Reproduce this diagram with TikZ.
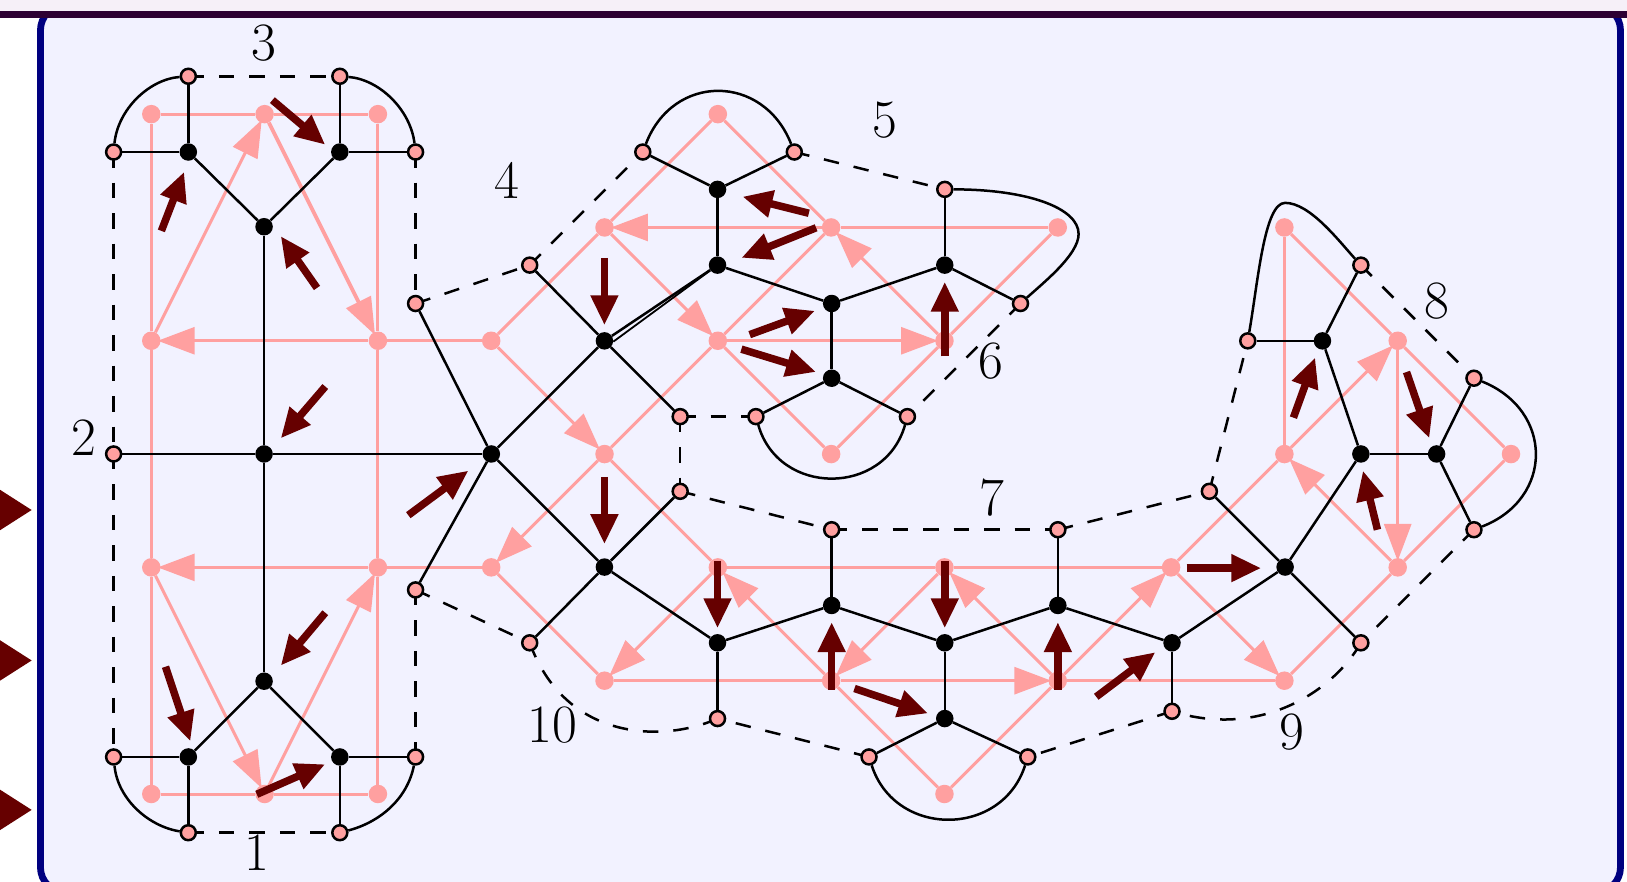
\documentclass[tikz,border=0pt]{standalone}
\usetikzlibrary{arrows.meta}
\definecolor{pk}{HTML}{FFA0A0}
\definecolor{dk}{HTML}{660000}
\definecolor{bgfill}{HTML}{F2F2FF}
\definecolor{framec}{HTML}{000080}
\definecolor{barc}{HTML}{2D0033}
\definecolor{barl}{HTML}{F6F0F8}
\tikzset{
  pinknode/.style={circle,fill=pk,inner sep=0pt,minimum size=18.5pt},
  blacknode/.style={circle,fill=black,inner sep=0pt,minimum size=17.5pt},
  bnode/.style={circle,fill=pk,draw=black,line width=2.5pt,inner sep=0pt,minimum size=15pt},
  edgeblack/.style={draw=black,line width=2.5pt},
  edgedash/.style={draw=black,line width=2.5pt,dash pattern=on 15.5pt off 15pt},
  pinkline/.style={draw=pk,line width=3pt},
  pinkarrow/.style={draw=pk,line width=3pt,shorten >=-3pt,-{Triangle[length=37pt,width=27pt,color=pk]}},
  darkarrow/.style={draw=dk,line width=7.5pt,-{Triangle[length=30pt,width=26pt,color=dk]}},
  lab/.style={inner sep=0pt,font=\fontsize{54}{60}\selectfont},
  tri/.style={fill=dk,draw=none},
}
\newcommand{\boundarylist}{c1/109/146,c2/181/73,c3/327/73,c4/400/146,c5/400/292,c6/109/437,c7/400/568,c8/109/729,c9/181/802,c10/327/802,c11/400/729,c12/510/255,c13/619/146,c14/765/146,c15/910/182,c16/983/292,c17/655/401,c18/728/401,c19/874/401,c20/655/473,c21/510/619,c22/691/692,c23/801/510,c24/1019/510,c25/837/729,c26/990/729,c27/1129/685,c28/1165/473,c29/1311/619,c30/1202/328,c31/1311/255,c32/1420/364,c33/1420/510}
\begin{document}
\begin{tikzpicture}[x=1.03763pt,y=-1.03763pt]
\useasboundingbox (0,0) rectangle (1568,850);
\clip (0,0) rectangle (1568,850);
\fill[white] (0,0) rectangle (1568,850);
% frame
\draw[draw=framec,fill=bgfill,line width=6.8pt,rounded corners=25pt] (39,5) rectangle (1561.7,860);
\fill[barl] (0,0) rectangle (1568,10.6);
\fill[barc] (0,10.6) rectangle (1568,17.3);
% side triangles
\fill[tri] (0,472) -- (30.5,491.5) -- (0,511) -- cycle;
\fill[tri] (0,617) -- (30.5,636.5) -- (0,656) -- cycle;
\fill[tri] (0,761) -- (30.5,780.5) -- (0,800) -- cycle;
\begin{scope}[shift={(0.5,0.5)}]
% pink nodes
\foreach \c/\r in {0/0,1/0,2/0,0/2,2/2,3/2,0/4,2/4,3/4,0/6,1/6,2/6,5/0,4/1,6/1,8/1,5/2,7/2,4/3,6/3,5/4,7/4,9/4,4/5,6/5,8/5,10/5,7/6,10/1,11/2,10/3,12/3,11/4}
  \node[pinknode] (p\c-\r) at ({145.3+109.2*\c},{109.5+109.2*\r}) {};
% pink plain edges
\foreach \a/\b in {0-0/1-0,1-0/2-0,0-0/0-2,0-2/0-4,0-4/0-6,2-0/2-2,2-2/2-4,2-4/2-6,0-6/1-6,1-6/2-6,3-2/2-2,3-4/2-4,
  3-2/4-1,4-1/5-0,5-0/6-1,6-1/5-2,5-2/4-3,8-1/6-1,8-1/7-2,7-2/6-3,5-2/6-3,4-3/5-4,3-4/4-5,4-5/6-5,8-5/10-5,5-4/7-4,7-4/9-4,6-5/7-6,7-6/8-5,10-5/11-4,9-4/10-3,10-3/10-1,10-1/11-2,11-2/12-3,12-3/11-4}
  \draw[pinkline] (p\a) -- (p\b);
% pink arrows
\foreach \a/\b in {0-2/1-0,2-2/0-2,2-4/0-4,0-4/1-6,1-6/2-4,7-2/6-1,4-3/3-4,6-1/4-1,4-1/5-2,5-2/7-2,3-2/4-3,5-4/4-5,6-5/8-5,6-5/5-4,7-4/6-5,8-5/7-4,8-5/9-4,9-4/10-5,10-3/11-2,11-2/11-4,11-4/10-3}
  \draw[pinkarrow] (p\a) -- (p\b);
\draw[pinkarrow,line width=3.8pt] (p1-0) -- (p2-2);
% positions of the boundary vertices: the dashed edges start at their centres, under the discs
\foreach \n/\x/\y in \boundarylist
  \coordinate (\n) at (\x,\y);
% dashed edges
\foreach \a/\b in {c2/c3,c1/c6,c6/c8,c4/c5,c7/c11,c9/c10,c5/c12,c12/c13,c14/c15,c16/c19,c17/c18,c17/c20,c20/c23,c23/c24,c24/c28,c28/c30,c31/c32,c33/c29,c27/c26,c25/c22,c7/c21}
  \draw[edgedash] (\a) -- (\b);
\draw[edgedash] (c29) .. controls (1285,665) and (1215,712) .. (c27);
\draw[edgedash] (c22) .. controls (640,715) and (545,715) .. (c21);
% black nodes
\foreach \n/\x/\y in {b1/181/146,b2/327/146,b3/254/218,b4/254/437,b5/473/437,b6/254/656,b7/181/729,b8/327/729,b9/582/328,b10/691/255,b11/691/182,b12/801/292,b13/801/364,b14/910/255,b15/582/546,b16/691/619,b17/801/583,b18/910/619,b19/910/692,b20/1019/583,b21/1129/619,b22/1238/546,b23/1311/437,b24/1384/437,b25/1274/328}
  \node[blacknode] (\n) at (\x,\y) {};
% boundary nodes
\foreach \n/\x/\y in \boundarylist
  \node[bnode] (\n) at (\x,\y) {};
% black edges
\foreach \a/\b in {b1/c1,b1/c2,b2/c3,b2/c4,b1/b3,b2/b3,b3/b4,b4/c6,b4/b5,b4/b6,b5/c5,b5/c7,b6/b7,b6/b8,b7/c8,b7/c9,b8/c10,b8/c11,
  b5/b9,b5/b15,b9/c12,b9/c17,b9/b10,b10/b11,b11/c13,b11/c14,b10/b12,b12/b14,b12/b13,b14/c15,b14/c16,b13/c18,b13/c19,
  b15/c20,b15/c21,b15/b16,b16/b17,b16/c22,b17/c23,b17/b18,b18/b20,b18/b19,b19/c25,b19/c26,b20/c24,b20/b21,b21/c27,b21/b22,b22/c28,b22/c29,b22/b23,b23/b24,b23/b25,b25/c30,b25/c31,b24/c32,b24/c33}
  \draw[edgeblack] (\a) -- (\b);
\draw[edgeblack,line width=1.8pt] (b9.-5) -- (b10);
% curved boundary edges
\draw[edgeblack] (c1) .. controls (113,105) and (143,76) .. (c2);
\draw[edgeblack] (c3) .. controls (365,76) and (395,105) .. (c4);
\draw[edgeblack] (c8) .. controls (113,770) and (143,796) .. (c9);
\draw[edgeblack] (c10) .. controls (365,792) and (392,770) .. (c11);
\draw[edgeblack] (c13) .. controls (648,70) and (735,70) .. (c14);
\draw[edgeblack] (c18) .. controls (750,478) and (852,478) .. (c19);
\draw[edgeblack] (c25) .. controls (862,807) and (965,807) .. (c26);
\draw[edgeblack] (c32) .. controls (1497,395) and (1497,480) .. (c33);
\draw[edgeblack] (c15) .. controls (990,182) and (1039,200) .. (1039,225) .. controls (1039,245) and (1005,272) .. (c16);
\draw[edgeblack] (c30) .. controls (1212,270) and (1218,195) .. (1238,195) .. controls (1262,195) and (1290,232) .. (c31);
% dark arrows
\foreach \i/\xa/\ya/\xb/\yb in {1/155/222/177/165,2/262/96/313/139,3/305/277/270/227,4/313/372/270/422,5/393/496/451/453,6/313/590/270/641,7/159/642/183/714,8/247/765/313/736,9/582/248/582/313,10/779/205/715/189,11/786/219/714/248,12/722/322/785/299,13/714/336/786/358,14/910/343/910/271,15/582/459/582/524,16/691/540/691/605,17/910/540/910/605,18/801/664/801/599,19/1019/664/1019/599,20/823/663/894/687,21/1143/547/1215/547,22/1246/402/1267/344,23/1355/358/1377/422,24/1327/510/1313/453,25/1056/671/1113/628}{
  \coordinate (s\i) at (\xa,\ya);
  \coordinate (e\i) at (\xb,\yb);
  \draw[darkarrow] (s\i) -- (e\i);
}
% labels
\node[lab] (l1) at (247,821.5) {1};
\node[lab] (l2) at (80,421.5) {2};
\node[lab] (l3) at (254,41.5) {3};
\node[lab] (l4) at (488,173.5) {4};
\node[lab] (l5) at (852,115.5) {5};
\node[lab] (l6) at (954,347.5) {6};
\node[lab] (l7) at (955,479.5) {7};
\node[lab] (l8) at (1384,289.5) {8};
\node[lab] (l9) at (1245,705) {9};
\node[lab] (l10) at (532,698) {10};
\end{scope}
\end{tikzpicture}
\end{document}
